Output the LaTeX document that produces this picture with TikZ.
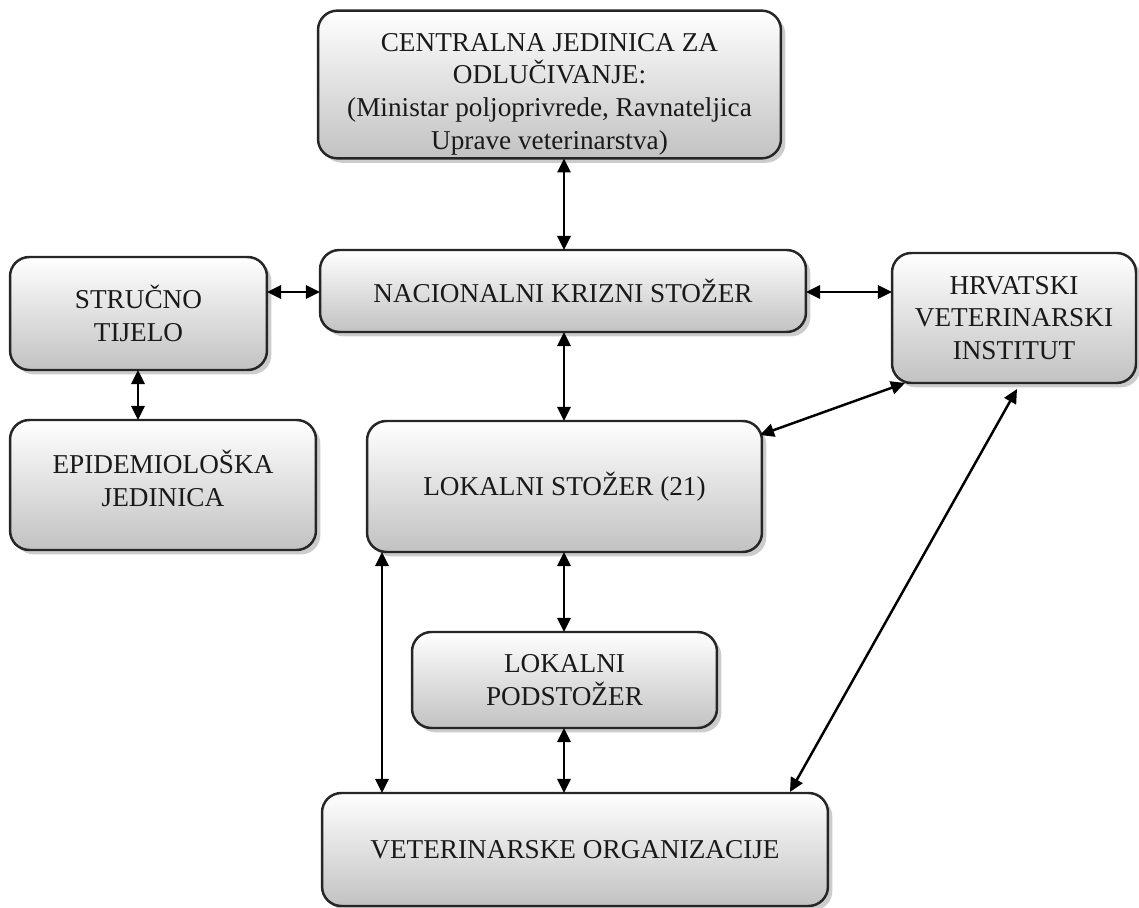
\documentclass[tikz,border=0pt]{standalone}
\usepackage{fontspec}
\setmainfont{Liberation Serif}
\usetikzlibrary{arrows.meta,shadows,calc}
\newcommand\mytightls{\lineskiplimit=-6pt\relax}
\begin{document}
\begin{tikzpicture}[x=0.02cm,y=-0.02cm,
  box/.style={draw=black!85, line width=1.4pt, rounded corners=11pt,
    top color=white, bottom color=black!24, outer sep=0pt, inner sep=2pt,
    align=center, text=black!90,
    font=\fontsize{15.5}{18.6}\selectfont\mytightls,
    drop shadow={shadow xshift=2.5pt, shadow yshift=-2.5pt, opacity=0.4}},
  link/.style={line width=1.4pt, draw=black, {Triangle[length=8pt,width=7.5pt]}-{Triangle[length=8pt,width=7.5pt]}}
]
\useasboundingbox (0,0) rectangle (1139,908);

\node[box, minimum width=9.26cm, minimum height=2.86cm] (central) at (549.5,84.5)
  {\rule{0pt}{21pt}CENTRALNA JEDINICA ZA\\ODLUČIVANJE:\\(Ministar poljoprivrede, Ravnateljica\\Uprave veterinarstva)};
\node[box, minimum width=9.72cm, minimum height=1.64cm] (nac) at (563,291) {NACIONALNI KRIZNI STOŽER};
\node[box, minimum width=5.14cm, minimum height=2.26cm] (str) at (138.5,313.5) {STRUČNO\\TIJELO};
\node[box, minimum width=6.12cm, minimum height=2.6cm] (epi) at (163,485) {EPIDEMIOLOŠKA\\JEDINICA\rule[-8pt]{0pt}{8pt}};
\node[box, minimum width=4.88cm, minimum height=2.6cm] (hvi) at (1014,318) {HRVATSKI\\VETERINARSKI\\INSTITUT};
\node[box, minimum width=7.9cm, minimum height=2.62cm] (lok) at (564.5,486.5) {LOKALNI STOŽER (21)};
\node[box, minimum width=6.1cm, minimum height=1.92cm] (pod) at (564.5,680) {LOKALNI\\PODSTOŽER};
\node[box, minimum width=10.12cm, minimum height=2.26cm] (vet) at (575,849.5) {VETERINARSKE ORGANIZACIJE};

\coordinate (ax) at (564,0);
\coordinate (lx) at (382,0);
\coordinate (sx) at (138,0);
\coordinate (ry) at (0,292);

\draw[link] (central.south -| ax) -- (nac.north -| ax);
\draw[link] (str.east |- ry) -- (nac.west |- ry);
\draw[link] (nac.east |- ry) -- (hvi.west |- ry);
\draw[link] (str.south -| sx) -- (epi.north -| sx);
\draw[link] (nac.south -| ax) -- (lok.north -| ax);
\draw[link] ($(hvi.south west)+(13,0)$) -- ($(lok.north east)+(-2,14)$);
\draw[link] (lok.south -| ax) -- (pod.north -| ax);
\draw[link] (lok.south -| lx) -- (vet.north -| lx);
\draw[link] (pod.south -| ax) -- (vet.north -| ax);
\draw[link] ($(hvi.south)+(3,6)$) -- ($(vet.north east)+(-38,-1)$);
\end{tikzpicture}
\end{document}
